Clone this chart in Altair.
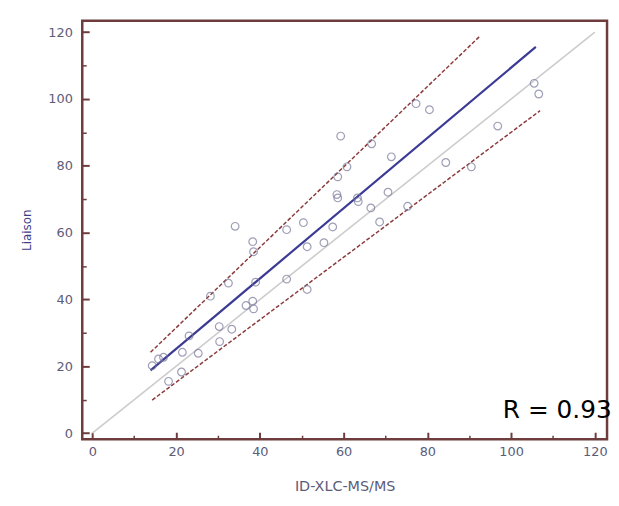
import altair as alt
import pandas as pd

# ---- data ----
x_vals = [14.3, 15.8, 17.0, 18.2, 21.3, 21.5, 23.1, 25.3, 28.2, 30.3, 30.4, 32.5,
          33.3, 34.1, 36.7, 38.3, 38.5, 38.3, 38.5, 39.0, 46.4, 46.4, 50.4, 51.3,
          51.3, 55.3, 57.4, 58.4, 58.6, 58.6, 59.3, 60.8, 63.3, 63.5, 66.5, 66.7,
          68.6, 70.6, 71.4, 75.3, 77.3, 80.5, 84.4, 90.5, 96.8, 105.5, 106.6]
y_vals = [20.2, 22.2, 22.7, 15.5, 18.3, 24.2, 29.1, 23.9, 41.0, 31.9, 27.4, 44.9,
          31.1, 61.9, 38.2, 39.5, 37.2, 57.3, 54.3, 45.2, 60.9, 46.1, 63.0, 55.8,
          43.0, 57.0, 61.7, 71.4, 70.4, 76.7, 88.9, 79.7, 70.4, 69.3, 67.4, 86.6,
          63.2, 72.1, 82.7, 67.9, 98.6, 96.8, 81.0, 79.7, 91.9, 104.7, 101.5]

identity_x = [0, 120]
identity_y = [0, 120]
fit_x = [13.9, 105.9]
fit_y = [18.8, 115.6]
upper_x = [13.9, 92.7]
upper_y = [24.2, 119.0]
lower_x = [14.3, 106.9]
lower_y = [9.9, 96.5]

major_ticks = [0, 20, 40, 60, 80, 100, 120]
minor_ticks = [10, 30, 50, 70, 90, 110]

r_label = ["R = 0.93"]
r_pos_x = [124.0]
r_pos_y = [4.4]

x_title = "ID-XLC-MS/MS"
y_title = "Liaison"

# ---- tables ----
pts = pd.DataFrame({"x": x_vals, "y": y_vals})
ident = pd.DataFrame({"x": identity_x, "y": identity_y})
fit = pd.DataFrame({"x": fit_x, "y": fit_y})
bands = pd.concat([
    pd.DataFrame({"x": upper_x, "y": upper_y, "s": "upper"}),
    pd.DataFrame({"x": lower_x, "y": lower_y, "s": "lower"}),
])
rtxt = pd.DataFrame({"x": r_pos_x, "y": r_pos_y, "t": r_label})

xs = alt.Scale(domain=[-2.4, 122.9], nice=False, zero=False)
ys = alt.Scale(domain=[-1.8, 123.4], nice=False, zero=False)

FRAME = "#6e3c3c"
LABEL = "#5c5c7a"
FONT = "DejaVu Sans"

def tick_axis(orient, values, size, width):
    return alt.Axis(orient=orient, values=values, labels=False, domain=False,
                    grid=False, ticks=True, tickSize=size, offset=-size,
                    tickWidth=width, tickColor=FRAME, title=None)

identity_layer = alt.Chart(ident).mark_line(color="#cccccc", strokeWidth=1.6).encode(
    x=alt.X("x:Q", scale=xs, axis=tick_axis("bottom", major_ticks, 7, 2)),
    y=alt.Y("y:Q", scale=ys, axis=tick_axis("left", major_ticks, 7, 2)),
)

band_layer = alt.Chart(bands).mark_line(
    color="#8c3b3b", strokeWidth=1.5, strokeDash=[4, 2]
).encode(
    x=alt.X("x:Q", scale=xs, axis=tick_axis("bottom", minor_ticks, 4, 1.5)),
    y=alt.Y("y:Q", scale=ys, axis=tick_axis("left", minor_ticks, 4, 1.5)),
    detail="s:N",
)

fit_layer = alt.Chart(fit).mark_line(color="#3b3b95", strokeWidth=2.2).encode(
    x=alt.X("x:Q", scale=xs, axis=None),
    y=alt.Y("y:Q", scale=ys, axis=None),
)

point_layer = alt.Chart(pts).mark_point(
    shape="circle", filled=False, size=60, color="#76769a", strokeWidth=1.2
).encode(
    x=alt.X("x:Q", scale=xs, axis=alt.Axis(
        orient="bottom", values=major_ticks, ticks=False, domain=False, grid=False,
        labelPadding=7, labelFont=FONT, labelFontSize=13, labelColor=LABEL,
        title=x_title, titleFont=FONT, titleFontSize=14.5, titleFontWeight="normal",
        titleColor=LABEL, titleY=48, titleBaseline="middle")),
    y=alt.Y("y:Q", scale=ys, axis=alt.Axis(
        orient="left", values=major_ticks, ticks=False, domain=False, grid=False,
        labelPadding=10, labelFont=FONT, labelFontSize=13, labelColor=LABEL,
        title=y_title, titleFont=FONT, titleFontSize=12, titleFontWeight="normal",
        titleColor="#3c3c88", titleX=-56, titleY=211, titleAngle=-90,
        titleAlign="center", titleBaseline="middle")),
)

text_layer = alt.Chart(rtxt).mark_text(
    align="right", baseline="alphabetic", font=FONT, fontSize=25, color="#000000"
).encode(
    x=alt.X("x:Q", scale=xs, axis=None),
    y=alt.Y("y:Q", scale=ys, axis=None),
    text="t:N",
)

chart = alt.layer(
    identity_layer, band_layer, fit_layer, point_layer, text_layer
).resolve_axis(x="independent", y="independent").properties(
    width=530, height=422.5,
    padding={"left": 75, "top": 10.5, "right": 4, "bottom": 60},
    autosize=alt.AutoSizeParams(type="none"),
    background="#ffffff",
).configure_view(stroke=FRAME, strokeWidth=2.5)

chart.save("out.html", embed_options={"renderer": "svg", "actions": False})
